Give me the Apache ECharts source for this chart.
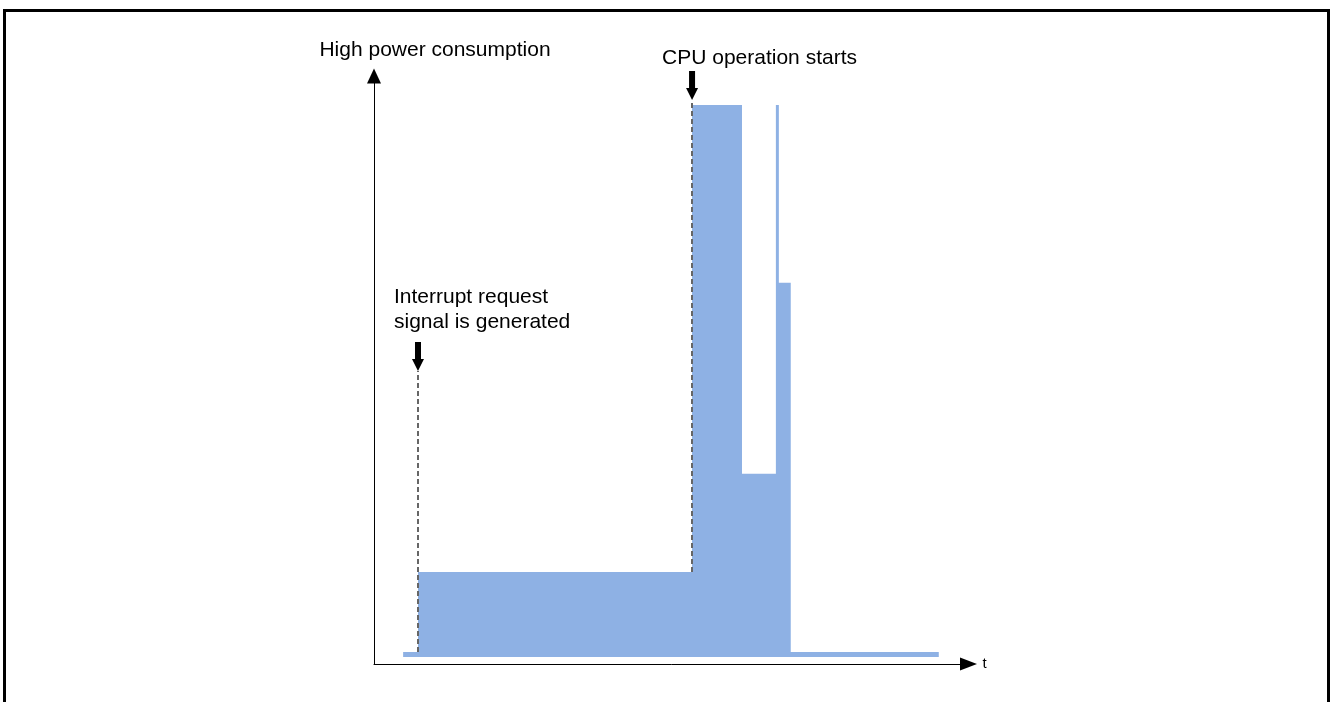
<!DOCTYPE html>
<html>
<head>
<meta charset="utf-8">
<script src="https://cdn.jsdelivr.net/npm/echarts@6/dist/echarts.min.js"></script>
<style>
  html, body { margin: 0; padding: 0; background: #fff; }
  #frame {
    position: absolute; left: 3px; top: 9px; right: 0; height: 720px;
    border: 3px solid #000; border-bottom: none; box-sizing: border-box;
  }
  #chart { position: absolute; left: 0; top: 0; width: 1330px; height: 702px; }
</style>
</head>
<body>
<div id="frame"></div>
<div id="chart"></div>
<script>
// step profile of the current draw (arbitrary units)
const timeX = [4.9, 7.4, 53.5, 61.9, 67.6, 68.1, 70.1, 95.0]
const power = [0.9, 15.4, 100, 33.2, 100, 67.8, 0.9, 0.9]

// annotations
const irqLabel = 'Interrupt request\nsignal is generated'
const cpuLabel = 'CPU operation starts'
const irqArrowY = 51.8
const cpuArrowY = 100.9

const font = 'Liberation Sans, Arial, sans-serif'
const fill = '#8eb1e4'
const arrowPath = 'path://M3,0 L9,0 L9,17 L12,17 L6,29 L0,17 L3,17 Z'

const chart = echarts.init(document.getElementById('chart'))

chart.setOption({
  animation: false,
  grid: {
    left: 374,
    right: 361.5,
    top: 76,
    bottom: 38
  },
  xAxis: {
    type: 'value',
    min: 0,
    max: 100,
    name: 't',
    nameLocation: 'end',
    nameGap: 14,
    nameTextStyle: { color: '#000', fontSize: 15, fontFamily: font },
    axisLine: {
      onZero: false,
      lineStyle: { color: '#000', width: 1 },
      symbol: ['none', 'triangle'],
      symbolSize: [13, 17]
    },
    axisTick: { show: false },
    axisLabel: { show: false },
    splitLine: { show: false }
  },
  yAxis: {
    type: 'value',
    min: -1.27,
    max: 105.25,
    name: 'High power consumption',
    nameLocation: 'end',
    nameGap: 15,
    nameTextStyle: {
      color: '#000',
      fontSize: 21,
      fontFamily: font,
      padding: [0, 0, 0, 122]
    },
    axisLine: {
      onZero: false,
      lineStyle: { color: '#000', width: 1 },
      symbol: ['none', 'triangle'],
      symbolSize: [14, 15]
    },
    axisTick: { show: false },
    axisLabel: { show: false },
    splitLine: { show: false }
  },
  series: [
    {
      type: 'line',
      step: 'end',
      silent: true,
      clip: false,
      symbol: 'none',
      data: timeX.map((x, i) => [x, power[i]]),
      lineStyle: { width: 0, color: fill },
      itemStyle: { color: fill },
      areaStyle: { color: fill, opacity: 1 },
      markLine: {
        silent: true,
        symbol: ['none', 'none'],
        label: { show: false },
        lineStyle: { type: [5, 3], color: '#666', width: 2 },
        data: [
          [{ coord: [timeX[1], power[0]] }, { coord: [timeX[1], irqArrowY] }],
          [{ coord: [timeX[2], power[1]] }, { coord: [timeX[2], cpuArrowY] }]
        ]
      },
      markPoint: {
        silent: true,
        symbol: arrowPath,
        symbolSize: [12, 29],
        symbolOffset: [0, '-50%'],
        itemStyle: { color: '#000' },
        label: {
          show: true,
          position: 'top',
          align: 'left',
          color: '#000',
          fontSize: 21,
          fontFamily: font
        },
        data: [
          {
            coord: [timeX[1], irqArrowY],
            label: { formatter: irqLabel, lineHeight: 25, offset: [-24, -2] }
          },
          {
            coord: [timeX[2], cpuArrowY],
            label: { formatter: cpuLabel, lineHeight: 21, offset: [-30, 3] }
          }
        ]
      }
    }
  ]
})
</script>
</body>
</html>
